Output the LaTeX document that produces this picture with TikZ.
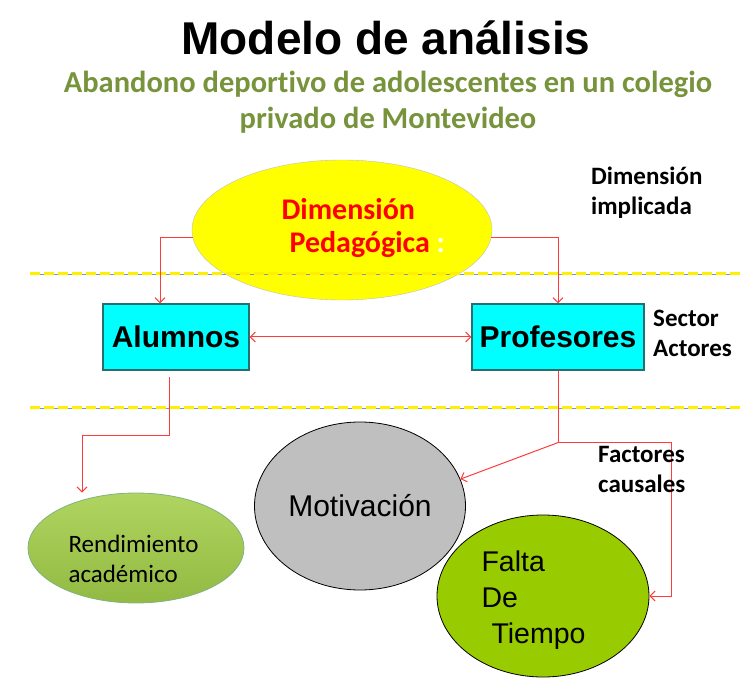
\documentclass[tikz,border=0pt]{standalone}
\usepackage{fontspec}
\setmainfont{Liberation Sans}
\newfontfamily\cali[Ligatures=NoCommon]{Carlito}
\usetikzlibrary{shapes.geometric,arrows.meta}

\definecolor{subgreen}{RGB}{119,147,60}
\definecolor{linkred}{RGB}{255,60,60}
\definecolor{actorline}{RGB}{40,110,110}
\definecolor{actorfill}{RGB}{0,255,255}
\definecolor{dimyellow}{RGB}{255,255,0}
\definecolor{sepyellow}{RGB}{255,240,0}
\definecolor{sepblue}{RGB}{120,150,190}
\definecolor{motigray}{RGB}{191,191,191}
\definecolor{faltagreen}{RGB}{153,204,0}

\begin{document}
\begin{tikzpicture}[x=1pt,y=-1pt,
  >={Straight Barb[length=5pt,width=10pt]},
  link/.style={draw=linkred,line width=1pt},
  actor/.style={draw=actorline,fill=actorfill,line width=1.2pt,minimum height=66pt,inner sep=0pt,
    font=\fontsize{30}{36}\selectfont\bfseries},
  blob/.style={ellipse,draw=black,line width=0.8pt,inner sep=0pt},
  note/.style={align=left,inner sep=0pt,font=\cali\fontsize{25}{30}\selectfont\bfseries}]
\useasboundingbox (0,0) rectangle (740,679);

% Title
\node[anchor=base,font=\fontsize{46}{52}\selectfont\bfseries] (title) at (386,55) {Modelo de análisis};
\node[anchor=base,align=center,text=subgreen,font=\cali\fontsize{30.5}{36}\selectfont\bfseries]
  (subtitle) at (388,129) {Abandono deportivo de adolescentes en un colegio\\privado de Montevideo};

% Dimension
\node[ellipse,fill=dimyellow,draw=gray!50,minimum width=300pt,minimum height=140pt] (dim) at (342,230) {};
\node[anchor=base west,align=left,text=red,font=\cali\fontsize{30}{33}\selectfont\bfseries]
  (dimtxt) at (278,253) {Dimensión\\\hspace{8pt}Pedagógica \textcolor{white}{:}};

% Separators
\foreach \y in {274,408} {
  \draw[line width=0.8pt,sepblue] (30,\y) -- (740,\y);
  \draw[line width=3pt,sepyellow,dash pattern=on 10pt off 4pt] (30,\y) -- (740,\y);
}

% Actors
\node[actor,minimum width=146pt] (alu) at (176,337) {Alumnos};
\node[actor,minimum width=172pt] (pro) at (558,337) {Profesores};

% Causal factors
\node[blob,draw=green!40!black!50,top color={rgb,255:red,176;green,212;blue,96},
  bottom color={rgb,255:red,146;green,186;blue,66},minimum width=216pt,minimum height=110pt] (rend) at (136,548) {};
\node[anchor=base west,align=left,font=\cali\fontsize{25}{30}\selectfont] (rendtxt) at (65,582) {Rendimiento\\académico};
\node[blob,fill=motigray,minimum width=211pt,minimum height=168pt,font=\fontsize{30}{36}\selectfont] (moti) at (360,506) {Motivación};
\node[blob,fill=faltagreen,minimum width=212pt,minimum height=162pt] (falta) at (543,596) {};
\node[anchor=base west,align=left,font=\fontsize{28.5}{36}\selectfont] (faltatxt) at (478,643) {Falta\\De\\\hspace{10pt}Tiempo};

% Connectors
\draw[link,->] (dim.183.5) -| ([xshift=-16pt]alu.north);
\draw[link,->] (dim.-3.5) -| (pro.north);
\draw[link,<->] (alu) -- (pro);
\draw[link,->] ([xshift=-7pt,yshift=-6pt]alu.south) -- ++(0,59) -| ([xshift=-54pt]rend.north);
\coordinate (projoin) at ([yshift=-72pt]pro.south);
\draw[link] (pro.south) -- (projoin);
\draw[link,->] (projoin) -- (moti.15);
\draw[link,->] (projoin) -- ++(113,0) |- (falta.east);

% Levels
\node[note,anchor=base west] (lbldim) at (591,215) {Dimensión\\implicada};
\node[note,anchor=base west] (lblsec) at (653,357) {Sector\\Actores};
\node[note,anchor=base west] (lblfac) at (598,493) {Factores\\causales};
\end{tikzpicture}
\end{document}
